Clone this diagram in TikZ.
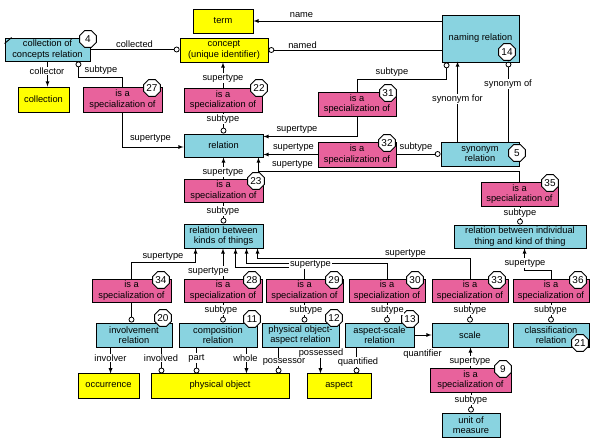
\documentclass[tikz,border=0pt]{standalone}
\usepackage{fontspec}
\setmainfont{Liberation Sans}
\usepackage{tikz}
\usetikzlibrary{arrows,shapes.geometric,calc}
\definecolor{boxcyan}{RGB}{137,211,224}
\definecolor{boxpink}{RGB}{232,98,156}
\definecolor{boxyellow}{RGB}{255,255,0}
\newcommand\spec{is a\\specialization of}

\begin{document}
\begin{tikzpicture}
    [x=1pt,y=-1pt, font=\fontsize{9.3}{10.3}\selectfont,
     kbox/.style={draw,line width=0.9pt,align=center,inner sep=1pt,minimum height=24pt},
     cbox/.style={kbox,fill=boxcyan},
     ybox/.style={kbox,fill=boxyellow},
     pbox/.style={kbox,fill=boxpink},
     badge/.style={draw,fill=white,line width=0.9pt,regular polygon,regular polygon sides=8,
       minimum size=18pt,inner sep=0pt,font=\fontsize{10}{10}\selectfont},
     lbl/.style={fill=white,inner sep=0.6pt},
     link/.style={line width=0.8pt}]
    \useasboundingbox (0,0) rectangle (598,446);
    % top
    \node[ybox,minimum width=60pt] (term) at (223,21) {term};
    \node[ybox,minimum width=88pt] (concept) at (224,50) {concept\\(unique identifier)};
    \node[cbox,minimum width=85pt,minimum height=23pt] (ccr) at (47.5,49.5) {collection of\\concepts relation};
    \node[ybox,minimum width=51pt,minimum height=25pt] (collection) at (43.5,99.5) {collection};
    \node[pbox,minimum width=79pt,minimum height=25pt] (spec27) at (122.5,99.5) {\spec};
    \node[pbox,minimum width=78pt] (spec22) at (223,100) {\spec};
    \node[cbox,minimum width=77pt,minimum height=47pt] (naming) at (480.5,38.5) {naming relation};
    \node[pbox,minimum width=78pt] (spec31) at (357,104) {\spec};
    % middle
    \node[cbox,minimum width=79pt,minimum height=23pt] (relation) at (223.5,145.5) {relation};
    \node[pbox,minimum width=78pt,minimum height=25pt] (spec32) at (357,154.5) {\spec};
    \node[cbox,minimum width=78pt] (synrel) at (480,154) {synonym\\relation};
    \node[pbox,minimum width=79pt,minimum height=23pt] (spec23) at (223.5,190.5) {\spec};
    \node[pbox,minimum width=77pt] (spec35) at (519.5,194) {\spec};
    \node[cbox,minimum width=79pt] (rbkt) at (223.5,236) {relation between\\kinds of things};
    \node[cbox,minimum width=132pt,minimum height=23pt] (rbit) at (520,236.5) {relation between individual\\thing and kind of thing};
    % specializations
    \node[pbox,minimum width=79pt,minimum height=23pt] (spec34) at (131.5,290.5) {\spec};
    \node[pbox,minimum width=78pt,minimum height=23pt] (spec28) at (223,290.5) {\spec};
    \node[pbox,minimum width=77pt,minimum height=23pt] (spec29) at (304.5,290.5) {\spec};
    \node[pbox,minimum width=76pt,minimum height=23pt] (spec30) at (387,290.5) {\spec};
    \node[pbox,minimum width=76pt,minimum height=23pt] (spec33) at (470,290.5) {\spec};
    \node[pbox,minimum width=76pt,minimum height=23pt] (spec36) at (551,290.5) {\spec};
    % relations
    \node[cbox,minimum width=76pt] (involve) at (134,335) {involvement\\relation};
    \node[cbox,minimum width=78pt] (compos) at (218,335) {composition\\relation};
    \node[cbox,minimum width=77pt] (physasp) at (300.5,335) {physical object-\\aspect relation};
    \node[cbox,minimum width=69pt] (aspscale) at (379.5,335) {aspect-scale\\relation};
    \node[cbox,minimum width=76pt] (scale) at (470,335) {scale};
    \node[cbox,minimum width=76pt] (classif) at (551,335) {classification\\relation};
    % bottom
    \node[ybox,minimum width=61pt,minimum height=25pt] (occur) at (108.5,385.5) {occurrence};
    \node[ybox,minimum width=138pt,minimum height=25pt] (physobj) at (220,385.5) {physical object};
    \node[ybox,minimum width=64pt,minimum height=25pt] (aspect) at (339,385.5) {aspect};
    \node[pbox,minimum width=81pt] (spec9) at (470.5,380) {\spec};
    \node[cbox,minimum width=58pt] (unitm) at (471,425) {unit of\\measure};
    \draw[line width=0.9pt] (ccr.north west) ++(0,6) -- ++(7,-6);

    % connectors top left
    \draw[link,-latex] (ccr.south) -- (ccr.south |- collection.north);
    \draw[link,-o] (ccr.east) -- (ccr.east -| concept.west);
    \draw[link,o-] ([xshift=-12pt]ccr.south east) -- ++(0,16) -| (spec27.north);
    \draw[link,-latex] (spec27.south) |- ([yshift=-1.5pt]relation.west);
    \draw[link,-latex] (naming.west |- term.east) -- (term.east);
    \draw[link,o-] (concept.east) -- (concept.east -| naming.west);
    \draw[link,-latex] (spec22.north) -- (spec22.north |- concept.south);
    \draw[link,o-] (relation.north) -- (relation.north |- spec22.south);
    % naming and synonym
    \draw[link,o-] ([xshift=5pt]naming.south west) -- ++(0,17) -| (spec31.north);
    \draw[link,-latex] (spec31.south) |- ([yshift=9pt]relation.east);
    \draw[link,-latex] (spec32.west) -- (spec32.west -| relation.east);
    \draw[link,o-] (synrel.west) -- (synrel.west -| spec32.east);
    \draw[link,-latex] ([xshift=17pt]synrel.north west) -- ++(0,-80);
    \draw[link,-o] ([xshift=-11pt]synrel.north east) -- ++(0,-80);
    \draw[link,-latex] (spec35.north) -- ++(0,-10) -| ([xshift=-5pt]relation.south east);
    \draw[link,-latex] (spec23.north) -- (relation.south);
    \draw[link,o-] (rbkt.north) -- (spec23.south);
    \draw[link,o-] (rbit.north) -- (rbit.north |- spec35.south);
    % supertypes
    \draw[link,-latex] (spec34.north) -- ++(0,-16) -| ([xshift=12pt]rbkt.south west);
    \draw[link,-latex] (spec28.north) -- (spec28.north |- rbkt.south);
    \draw[link,-latex] (spec29.north) -- ++(0,-11) -| ([xshift=52pt]rbkt.south west);
    \draw[link,-latex] (spec30.north) -- ++(0,-15) -| ([xshift=63pt]rbkt.south west);
    \draw[link,-latex] (spec33.north) -- ++(0,-20) -| ([xshift=74pt]rbkt.south west);
    \draw[link,-latex] (spec36.north) -- ++(0,-8) -| ([xshift=71pt]rbit.south west);
    % subtypes
    \draw[link,o-] (spec34.south |- involve.north) -- (spec34.south);
    \draw[link,o-] (spec28.south |- compos.north) -- (spec28.south);
    \draw[link,o-] (spec29.south |- physasp.north) -- (spec29.south);
    \draw[link,o-] (spec30.south |- aspscale.north) -- (spec30.south);
    \draw[link,o-] (spec33.south |- scale.north) -- (spec33.south);
    \draw[link,o-] (spec36.south |- classif.north) -- (spec36.south);
    % roles
    \draw[link,-latex] ([xshift=15pt]involve.south west) -- ++(0,26);
    \draw[link,-o] ([xshift=-11pt]involve.south east) -- ++(0,26);
    \draw[link,-o] ([xshift=18pt]compos.south west) -- ++(0,26);
    \draw[link,-latex] ([xshift=-11pt]compos.south east) -- ++(0,26);
    \draw[link,-o] ([xshift=17pt]physasp.south west) -- ++(0,26);
    \draw[link,-latex] ([xshift=-19pt]physasp.south east) -- ++(0,26);
    \draw[link,-o] ([xshift=12pt]aspscale.south west) -- ++(0,26);
    \draw[link,-latex] (aspscale.east) -- (scale.west);
    \draw[link,-latex] (spec9.north) -- (spec9.north |- scale.south);
    \draw[link,o-] (unitm.north) -- (unitm.north |- spec9.south);

    % badges
    \node[badge] (n4) at (88,39) {4};
    \node[badge] (n27) at (152,88) {27};
    \node[badge] (n22) at (259,88) {22};
    \node[badge] (n14) at (507,52) {14};
    \node[badge] (n31) at (388,93) {31};
    \node[badge] (n32) at (387,143) {32};
    \node[badge] (n5) at (517,153) {5};
    \node[badge] (n23) at (256,181) {23};
    \node[badge] (n35) at (550,183) {35};
    \node[badge] (n34) at (161,280) {34};
    \node[badge] (n28) at (252,280) {28};
    \node[badge] (n29) at (334,280) {29};
    \node[badge] (n30) at (415,280) {30};
    \node[badge] (n33) at (497,280) {33};
    \node[badge] (n36) at (578,280) {36};
    \node[badge] (n20) at (163,318) {20};
    \node[badge] (n11) at (252,319) {11};
    \node[badge] (n12) at (334,318) {12};
    \node[badge] (n13) at (410,319) {13};
    \node[badge] (n21) at (580,343) {21};
    \node[badge] (n9) at (503,369) {9};

    % labels
    \node[lbl] (lcollector) at (47,71) {collector};
    \node[lbl] (lcollected) at (134.5,44) {collected};
    \node[lbl] (lsub27) at (101,70) {subtype};
    \node[lbl] (lsup27) at (150.5,138) {supertype};
    \node[lbl] (lname) at (301.5,15) {name};
    \node[lbl] (lnamed) at (302.5,45) {named};
    \node[lbl] (lsup22) at (223,78) {supertype};
    \node[lbl] (lsub22) at (223,119) {subtype};
    \node[lbl] (lsub31) at (392,72) {subtype};
    \node[lbl] (lsup31) at (297,129) {supertype};
    \node[lbl] (lsup32) at (293.5,147) {supertype};
    \node[lbl] (lsub32) at (416,147) {subtype};
    \node[lbl] (lsynfor) at (457.5,99) {synonym for};
    \node[lbl] (lsynof) at (508,84) {synonym of};
    \node[lbl] (lsup35) at (292.5,164) {supertype};
    \node[lbl] (lsup23) at (223,172) {supertype};
    \node[lbl] (lsub23) at (223,211) {subtype};
    \node[lbl] (lsub35) at (520,213) {subtype};
    \node[lbl] (lsup34) at (163,256) {supertype};
    \node[lbl] (lsup28) at (208.5,271) {supertype};
    \node[lbl] (lsup30) at (310.5,264) {supertype};
    \node[lbl] (lsup33) at (405.5,253) {supertype};
    \node[lbl] (lsup36) at (525,263) {supertype};
    \node[lbl] (lsub28) at (221,310) {subtype};
    \node[lbl] (lsub29) at (306,310) {subtype};
    \node[lbl] (lsub30) at (387.5,310) {subtype};
    \node[lbl] (lsub33) at (470,310) {subtype};
    \node[lbl] (lsub36) at (550.5,310) {subtype};
    \node[lbl] (linvolver) at (110.5,358) {involver};
    \node[lbl] (linvolved) at (161,358) {involved};
    \node[lbl] (lpart) at (196.5,358) {part};
    \node[lbl] (lwhole) at (245.5,358) {whole};
    \node[lbl] (lpossessor) at (284,362) {possessor};
    \node[lbl] (lpossessed) at (321,353) {possessed};
    \node[lbl] (lquantified) at (358,362) {quantified};
    \node[lbl] (lquantifier) at (422.5,354) {quantifier};
    \node[lbl] (lsup9) at (470,361) {supertype};
    \node[lbl] (lsub9) at (471,400) {subtype};
  \end{tikzpicture}
\end{document}
